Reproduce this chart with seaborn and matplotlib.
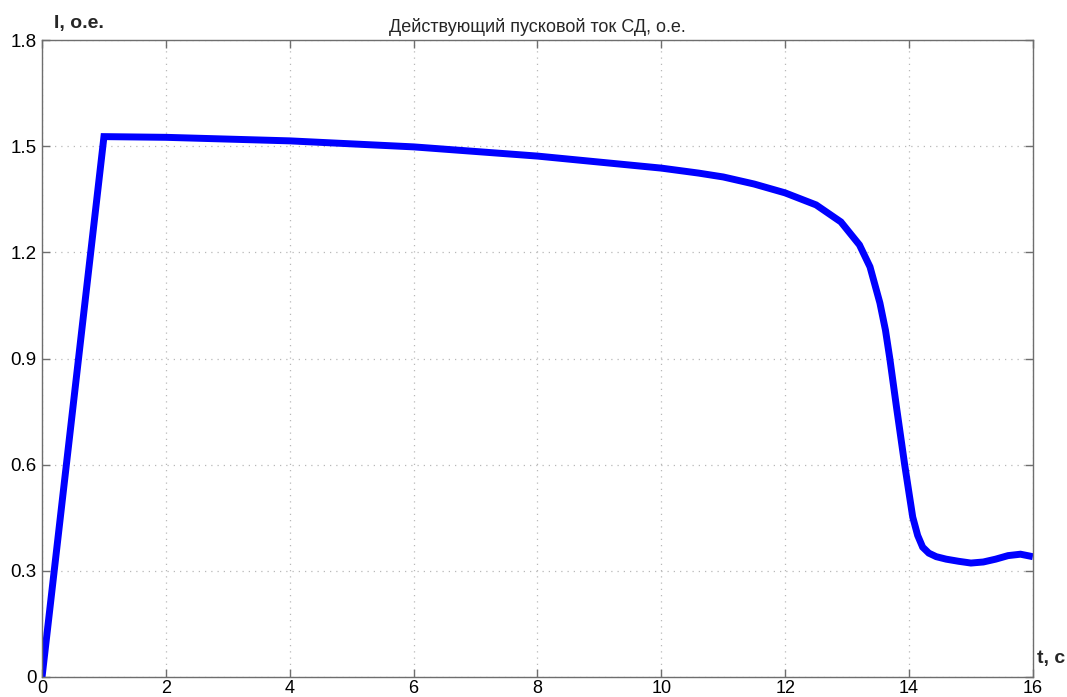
import matplotlib
matplotlib.use("Agg")
import matplotlib.pyplot as plt
import seaborn as sns
import pandas as pd

# данные
t = [0.0, 1.0, 2.0, 4.0, 6.0, 8.0, 10.0, 10.6, 11.0, 11.5, 12.0, 12.5, 12.9,
     13.2, 13.37, 13.53, 13.62, 13.69, 13.8, 13.93, 14.0, 14.06, 14.14, 14.22,
     14.32, 14.44, 14.6, 14.8, 15.0, 15.2, 15.4, 15.6, 15.8, 16.0]
current = [0.0, 1.527, 1.525, 1.515, 1.498, 1.472, 1.438, 1.424, 1.413, 1.393,
           1.368, 1.334, 1.286, 1.221, 1.159, 1.057, 0.980, 0.900, 0.760,
           0.600, 0.520, 0.452, 0.400, 0.367, 0.350, 0.340, 0.333, 0.327,
           0.322, 0.325, 0.333, 0.343, 0.347, 0.340]

x_ticks = [0, 2, 4, 6, 8, 10, 12, 14, 16]
y_ticks = [0, 0.3, 0.6, 0.9, 1.2, 1.5, 1.8]
y_tick_labels = ["0", "0.3", "0.6", "0.9", "1.2", "1.5", "1.8"]

df = pd.DataFrame({"t": t, "I": current})

sns.set_style("white")
plt.rcParams["font.family"] = ["Liberation Sans", "DejaVu Sans"]

fig = plt.figure(figsize=(10.67, 6.97), dpi=100)
ax = fig.add_axes([0.0394, 0.0287, 0.9286, 0.9139])

sns.lineplot(data=df, x="t", y="I", ax=ax, color="#0000ff", linewidth=5,
             solid_joinstyle="miter", solid_capstyle="butt")

ax.set_xlim(0, 16)
ax.set_ylim(0, 1.8)
ax.set_xticks(x_ticks)
ax.set_yticks(y_ticks)
ax.set_yticklabels(y_tick_labels)
ax.set_xlabel("")
ax.set_ylabel("")

ax.grid(True, linestyle=(0, (1, 4)), color="#b8b8b8", linewidth=0.9)
for s in ax.spines.values():
    s.set_color("#6e6e6e")
    s.set_linewidth(1.0)
ax.tick_params(direction="in", length=6, width=1.0, color="#6e6e6e",
               labelsize=13.5, labelcolor="black", top=True, right=True,
               bottom=True, left=True, pad=4)
ax.tick_params(axis="x", labelsize=13, pad=2)

ax.set_title("Действующий пусковой ток СД, о.е.", fontsize=13, pad=6)
fig.text(0.051, 0.967, "I, о.е.", fontsize=14, fontweight="bold",
         ha="left", va="center")
fig.text(0.972, 0.055, "t, с", fontsize=14, fontweight="bold",
         ha="left", va="center")

fig.savefig("out.png", dpi=100)
